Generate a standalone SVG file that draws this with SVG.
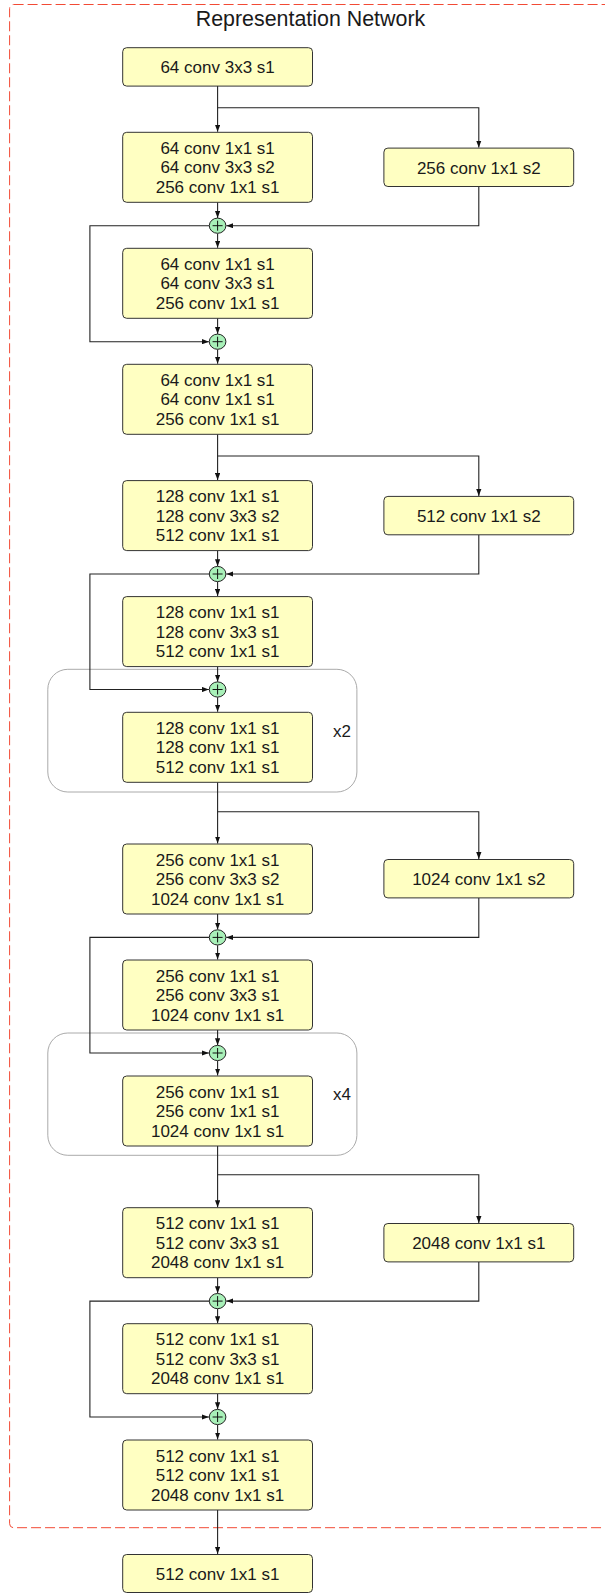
<svg xmlns="http://www.w3.org/2000/svg" width="605" height="1593" viewBox="0 0 605 1593">
<style>
  .box { fill: #ffffc2; stroke: #333; stroke-width: 1; }
  .t { font-family: "Liberation Sans", Arial, sans-serif; font-size: 17px; fill: #1a1a1a; text-anchor: middle; }
  .title { font-family: "Liberation Sans", Arial, sans-serif; font-size: 21.4px; fill: #1a1a1a; text-anchor: middle; }
  .lbl { font-family: "Liberation Sans", Arial, sans-serif; font-size: 17px; fill: #1a1a1a; text-anchor: middle; }
  .c { fill: none; stroke: #222; stroke-width: 1.1; }
  .add { fill: #a8f0b8; stroke: #222; stroke-width: 1; }
  .plus { stroke: #111; stroke-width: 1; fill: none; }
  .grp { fill: none; stroke: #aaa; stroke-width: 1; }
  .border { fill: none; stroke: #f24a35; stroke-width: 1; stroke-dasharray: 10 4; }
</style>
<defs>
  <marker id="ah" viewBox="0 0 8 6" refX="8" refY="3" markerWidth="7" markerHeight="5.5" markerUnits="userSpaceOnUse" orient="auto">
    <path d="M0,0 L8,3 L0,6 z" fill="#111"/>
  </marker>
</defs>

<rect class="border" x="9.6" y="4.5" width="630" height="1523.2" rx="4"/>
<text class="title" x="310.5" y="26">Representation Network</text>

<!-- repeat groups -->
<g id="repeat-x2">
  <rect class="grp" x="47.8" y="669.3" width="309.1" height="122.7" rx="20"/>
  <text class="lbl" x="342" y="737">x2</text>
</g>
<g id="repeat-x4">
  <rect class="grp" x="47.8" y="1033" width="309.1" height="122.3" rx="20"/>
  <text class="lbl" x="342" y="1100">x4</text>
</g>

<!-- connectors -->
<g id="connectors">
  <path class="c" d="M217.6,86.1 V131.8" marker-end="url(#ah)"/>
  <path class="c" d="M217.6,107.7 H478.8 V147.6" marker-end="url(#ah)"/>
  <path class="c" d="M217.6,202.3 V217.9" marker-end="url(#ah)"/>
  <path class="c" d="M478.8,186.5 V225.7 H226.3" marker-end="url(#ah)"/>
  <path class="c" d="M217.6,233.5 V247.8" marker-end="url(#ah)"/>
  <path class="c" d="M217.6,318.3 V333.9" marker-end="url(#ah)"/>
  <path class="c" d="M209.1,225.7 H89.9 V341.7 H208.9" marker-end="url(#ah)"/>
  <path class="c" d="M217.6,349.5 V363.8" marker-end="url(#ah)"/>
  <path class="c" d="M217.6,434.3 V480.1" marker-end="url(#ah)"/>
  <path class="c" d="M217.6,456 H478.8 V495.9" marker-end="url(#ah)"/>
  <path class="c" d="M217.6,550.6 V566.2" marker-end="url(#ah)"/>
  <path class="c" d="M478.8,534.8 V574 H226.3" marker-end="url(#ah)"/>
  <path class="c" d="M217.6,581.8 V596.1" marker-end="url(#ah)"/>
  <path class="c" d="M217.6,666.6 V681.7" marker-end="url(#ah)"/>
  <path class="c" d="M209.1,574 H89.9 V689.5 H208.9" marker-end="url(#ah)"/>
  <path class="c" d="M217.6,697.3 V711.8" marker-end="url(#ah)"/>
  <path class="c" d="M217.6,782.3 V843.5" marker-end="url(#ah)"/>
  <path class="c" d="M217.6,811.7 H478.8 V859" marker-end="url(#ah)"/>
  <path class="c" d="M217.6,914 V929.6" marker-end="url(#ah)"/>
  <path class="c" d="M478.8,897.9 V937.4 H226.3" marker-end="url(#ah)"/>
  <path class="c" d="M217.6,945.2 V959.5" marker-end="url(#ah)"/>
  <path class="c" d="M217.6,1030 V1045.2" marker-end="url(#ah)"/>
  <path class="c" d="M209.1,937.4 H89.9 V1053 H208.9" marker-end="url(#ah)"/>
  <path class="c" d="M217.6,1060.8 V1075.5" marker-end="url(#ah)"/>
  <path class="c" d="M217.6,1146 V1207.2" marker-end="url(#ah)"/>
  <path class="c" d="M217.6,1174.7 H478.8 V1223" marker-end="url(#ah)"/>
  <path class="c" d="M217.6,1277.7 V1293.3" marker-end="url(#ah)"/>
  <path class="c" d="M478.8,1261.9 V1301.1 H226.3" marker-end="url(#ah)"/>
  <path class="c" d="M217.6,1308.9 V1323.2" marker-end="url(#ah)"/>
  <path class="c" d="M217.6,1393.7 V1409.2" marker-end="url(#ah)"/>
  <path class="c" d="M209.1,1301.1 H89.9 V1417 H208.9" marker-end="url(#ah)"/>
  <path class="c" d="M217.6,1424.8 V1439.5" marker-end="url(#ah)"/>
  <path class="c" d="M217.6,1510 V1554" marker-end="url(#ah)"/>
</g>

<!-- adders -->
<g id="add1"><ellipse class="add" cx="217.6" cy="225.7" rx="8.3" ry="7.6"/><path class="plus" d="M212.6,225.7 H222.6 M217.6,220.7 V230.7"/></g>
<g id="add2"><ellipse class="add" cx="217.6" cy="341.7" rx="8.3" ry="7.6"/><path class="plus" d="M212.6,341.7 H222.6 M217.6,336.7 V346.7"/></g>
<g id="add3"><ellipse class="add" cx="217.6" cy="574" rx="8.3" ry="7.6"/><path class="plus" d="M212.6,574 H222.6 M217.6,569 V579"/></g>
<g id="add4"><ellipse class="add" cx="217.6" cy="689.5" rx="8.3" ry="7.6"/><path class="plus" d="M212.6,689.5 H222.6 M217.6,684.5 V694.5"/></g>
<g id="add5"><ellipse class="add" cx="217.6" cy="937.4" rx="8.3" ry="7.6"/><path class="plus" d="M212.6,937.4 H222.6 M217.6,932.4 V942.4"/></g>
<g id="add6"><ellipse class="add" cx="217.6" cy="1053" rx="8.3" ry="7.6"/><path class="plus" d="M212.6,1053 H222.6 M217.6,1048 V1058"/></g>
<g id="add7"><ellipse class="add" cx="217.6" cy="1301.1" rx="8.3" ry="7.6"/><path class="plus" d="M212.6,1301.1 H222.6 M217.6,1296.1 V1306.1"/></g>
<g id="add8"><ellipse class="add" cx="217.6" cy="1417" rx="8.3" ry="7.6"/><path class="plus" d="M212.6,1417 H222.6 M217.6,1412 V1422"/></g>

<!-- main boxes -->
<g id="boxA"><rect class="box" x="122.7" y="47.7" width="189.8" height="38.4" rx="4"/><text class="t" x="217.6" y="73.3">64 conv 3x3 s1</text></g>
<g id="boxB"><rect class="box" x="122.7" y="132.3" width="189.8" height="70" rx="4"/>
  <text class="t" x="217.6" y="153.8">64 conv 1x1 s1</text><text class="t" x="217.6" y="173.3">64 conv 3x3 s2</text><text class="t" x="217.6" y="192.8">256 conv 1x1 s1</text></g>
<g id="sideB"><rect class="box" x="383.9" y="148.1" width="189.8" height="38.4" rx="4"/><text class="t" x="478.8" y="173.7">256 conv 1x1 s2</text></g>
<g id="boxC"><rect class="box" x="122.7" y="248.3" width="189.8" height="70" rx="4"/>
  <text class="t" x="217.6" y="269.8">64 conv 1x1 s1</text><text class="t" x="217.6" y="289.3">64 conv 3x3 s1</text><text class="t" x="217.6" y="308.8">256 conv 1x1 s1</text></g>
<g id="boxD"><rect class="box" x="122.7" y="364.3" width="189.8" height="70" rx="4"/>
  <text class="t" x="217.6" y="385.8">64 conv 1x1 s1</text><text class="t" x="217.6" y="405.3">64 conv 1x1 s1</text><text class="t" x="217.6" y="424.8">256 conv 1x1 s1</text></g>
<g id="boxE"><rect class="box" x="122.7" y="480.6" width="189.8" height="70" rx="4"/>
  <text class="t" x="217.6" y="502.1">128 conv 1x1 s1</text><text class="t" x="217.6" y="521.6">128 conv 3x3 s2</text><text class="t" x="217.6" y="541.1">512 conv 1x1 s1</text></g>
<g id="sideE"><rect class="box" x="383.9" y="496.4" width="189.8" height="38.4" rx="4"/><text class="t" x="478.8" y="522">512 conv 1x1 s2</text></g>
<g id="boxF"><rect class="box" x="122.7" y="596.6" width="189.8" height="70" rx="4"/>
  <text class="t" x="217.6" y="618.1">128 conv 1x1 s1</text><text class="t" x="217.6" y="637.6">128 conv 3x3 s1</text><text class="t" x="217.6" y="657.1">512 conv 1x1 s1</text></g>
<g id="boxG"><rect class="box" x="122.7" y="712.3" width="189.8" height="70" rx="4"/>
  <text class="t" x="217.6" y="733.8">128 conv 1x1 s1</text><text class="t" x="217.6" y="753.3">128 conv 1x1 s1</text><text class="t" x="217.6" y="772.8">512 conv 1x1 s1</text></g>
<g id="boxH"><rect class="box" x="122.7" y="844" width="189.8" height="70" rx="4"/>
  <text class="t" x="217.6" y="865.5">256 conv 1x1 s1</text><text class="t" x="217.6" y="885">256 conv 3x3 s2</text><text class="t" x="217.6" y="904.5">1024 conv 1x1 s1</text></g>
<g id="sideH"><rect class="box" x="383.9" y="859.5" width="189.8" height="38.4" rx="4"/><text class="t" x="478.8" y="885.1">1024 conv 1x1 s2</text></g>
<g id="boxI"><rect class="box" x="122.7" y="960" width="189.8" height="70" rx="4"/>
  <text class="t" x="217.6" y="981.5">256 conv 1x1 s1</text><text class="t" x="217.6" y="1001">256 conv 3x3 s1</text><text class="t" x="217.6" y="1020.5">1024 conv 1x1 s1</text></g>
<g id="boxJ"><rect class="box" x="122.7" y="1076" width="189.8" height="70" rx="4"/>
  <text class="t" x="217.6" y="1097.5">256 conv 1x1 s1</text><text class="t" x="217.6" y="1117">256 conv 1x1 s1</text><text class="t" x="217.6" y="1136.5">1024 conv 1x1 s1</text></g>
<g id="boxK"><rect class="box" x="122.7" y="1207.7" width="189.8" height="70" rx="4"/>
  <text class="t" x="217.6" y="1229.2">512 conv 1x1 s1</text><text class="t" x="217.6" y="1248.7">512 conv 3x3 s1</text><text class="t" x="217.6" y="1268.2">2048 conv 1x1 s1</text></g>
<g id="sideK"><rect class="box" x="383.9" y="1223.5" width="189.8" height="38.4" rx="4"/><text class="t" x="478.8" y="1249.1">2048 conv 1x1 s1</text></g>
<g id="boxL"><rect class="box" x="122.7" y="1323.7" width="189.8" height="70" rx="4"/>
  <text class="t" x="217.6" y="1345.2">512 conv 1x1 s1</text><text class="t" x="217.6" y="1364.7">512 conv 3x3 s1</text><text class="t" x="217.6" y="1384.2">2048 conv 1x1 s1</text></g>
<g id="boxM"><rect class="box" x="122.7" y="1440" width="189.8" height="70" rx="4"/>
  <text class="t" x="217.6" y="1461.5">512 conv 1x1 s1</text><text class="t" x="217.6" y="1481">512 conv 1x1 s1</text><text class="t" x="217.6" y="1500.5">2048 conv 1x1 s1</text></g>
<g id="boxN"><rect class="box" x="122.7" y="1554.5" width="189.8" height="38" rx="4"/><text class="t" x="217.6" y="1580.1">512 conv 1x1 s1</text></g>
</svg>
